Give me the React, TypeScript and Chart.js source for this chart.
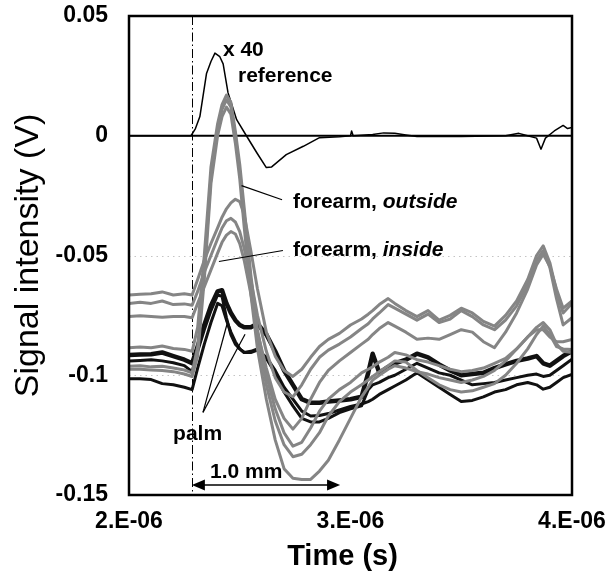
import React, { useEffect, useRef } from 'react';
import { Chart, registerables } from 'chart.js';

Chart.register(...registerables);

// ---------- data (time in microseconds, signal in volts) ----------
const timeMicroseconds = [
  2.0, 2.05, 2.1, 2.15, 2.2, 2.25, 2.285, 2.31, 2.34, 2.37, 2.4, 2.42, 2.44, 2.46, 2.48, 2.5, 2.52, 2.55,
  2.58, 2.62, 2.66, 2.7, 2.74, 2.78, 2.82, 2.86, 2.9, 2.95, 3.0, 3.05, 3.08, 3.1, 3.13, 3.17, 3.2, 3.25,
  3.3, 3.35, 3.4, 3.45, 3.5, 3.55, 3.6, 3.65, 3.7, 3.75, 3.8, 3.84, 3.87, 3.9, 3.93, 3.96, 4.0,
];

const forearmInside1 = [
  -0.0665, -0.0662, -0.066, -0.0652, -0.0665, -0.066, -0.0665, -0.06, -0.052, -0.045, -0.0385, -0.034, -0.0305,
  -0.028, -0.0265, -0.0275, -0.033, -0.048, -0.064, -0.082, -0.092, -0.098, -0.1005, -0.0975, -0.0925, -0.088,
  -0.085, -0.0825, -0.079, -0.0765, -0.0745, -0.073, -0.0705, -0.068, -0.07, -0.073, -0.0755, -0.073, -0.077,
  -0.075, -0.072, -0.074, -0.0775, -0.0795, -0.075, -0.069, -0.06, -0.05, -0.046, -0.053, -0.065, -0.074, -0.07,
];
const forearmInside2 = [
  -0.07, -0.0695, -0.07, -0.069, -0.0705, -0.0702, -0.0708, -0.065, -0.057, -0.05, -0.043, -0.0385, -0.0355,
  -0.0345, -0.036, -0.04, -0.047, -0.06, -0.075, -0.09, -0.101, -0.107, -0.109, -0.104, -0.0975, -0.0925,
  -0.0895, -0.087, -0.084, -0.0805, -0.0785, -0.0765, -0.074, -0.0705, -0.072, -0.0745, -0.077, -0.0745, -0.078,
  -0.0765, -0.073, -0.0755, -0.079, -0.081, -0.077, -0.071, -0.062, -0.052, -0.048, -0.055, -0.068, -0.079, -0.076,
];
const forearmInside3 = [
  -0.0755, -0.0752, -0.0755, -0.0758, -0.0755, -0.0755, -0.076, -0.07, -0.063, -0.056, -0.049, -0.0445, -0.0415,
  -0.04, -0.041, -0.045, -0.052, -0.066, -0.082, -0.097, -0.11, -0.118, -0.1225, -0.118, -0.11, -0.103,
  -0.098, -0.094, -0.0905, -0.087, -0.085, -0.083, -0.0805, -0.078, -0.0795, -0.082, -0.085, -0.0845, -0.085,
  -0.083, -0.081, -0.082, -0.086, -0.0885, -0.082, -0.074, -0.064, -0.054, -0.0495, -0.0545, -0.064, -0.072, -0.069,
];
const forearmOutside1 = [
  -0.0885, -0.0882, -0.0885, -0.0878, -0.0888, -0.0892, -0.09, -0.08, -0.05, -0.013, 0.005, 0.013, 0.017,
  0.014, 0.002, -0.012, -0.03, -0.058, -0.081, -0.1, -0.114, -0.124, -0.1296, -0.128, -0.122, -0.115,
  -0.11, -0.106, -0.103, -0.099, -0.0975, -0.0965, -0.0945, -0.0925, -0.0905, -0.0915, -0.0935, -0.0945, -0.096,
  -0.0975, -0.0985, -0.098, -0.097, -0.095, -0.093, -0.089, -0.084, -0.08, -0.078, -0.081, -0.087, -0.09, -0.0905,
];
const forearmOutside2 = [
  -0.0962, -0.096, -0.0965, -0.0962, -0.097, -0.0978, -0.099, -0.088, -0.056, -0.017, 0.003, 0.011, 0.015,
  0.012, 0.0, -0.015, -0.034, -0.062, -0.085, -0.104, -0.119, -0.129, -0.134, -0.133, -0.129, -0.124,
  -0.117, -0.111, -0.107, -0.104, -0.102, -0.1005, -0.0985, -0.096, -0.094, -0.0945, -0.098, -0.101, -0.104,
  -0.106, -0.107, -0.1065, -0.105, -0.1035, -0.1, -0.095, -0.089, -0.083, -0.0795, -0.083, -0.088, -0.089, -0.0892,
];
const forearmOutside3 = [
  -0.0975, -0.0975, -0.0978, -0.098, -0.0985, -0.0995, -0.1005, -0.092, -0.06, -0.02, 0.0, 0.008, 0.012,
  0.009, -0.003, -0.018, -0.038, -0.066, -0.089, -0.11, -0.127, -0.139, -0.143, -0.1435, -0.1435, -0.14,
  -0.1355, -0.127, -0.118, -0.109, -0.105, -0.102, -0.1, -0.0975, -0.096, -0.097, -0.0985, -0.0995, -0.101,
  -0.102, -0.103, -0.102, -0.1005, -0.098, -0.094, -0.089, -0.084, -0.081, -0.081, -0.084, -0.086, -0.086, -0.085,
];
const palm1 = [
  -0.0915, -0.0913, -0.0912, -0.0905, -0.092, -0.0935, -0.095, -0.088, -0.079, -0.071, -0.065, -0.0645, -0.07,
  -0.074, -0.077, -0.079, -0.08, -0.08, -0.0785, -0.083, -0.09, -0.098, -0.104, -0.11, -0.1115, -0.1115,
  -0.111, -0.1105, -0.11, -0.109, -0.099, -0.091, -0.099, -0.0965, -0.095, -0.0935, -0.091, -0.0925, -0.0955,
  -0.098, -0.1, -0.0995, -0.099, -0.097, -0.0955, -0.094, -0.093, -0.092, -0.095, -0.096, -0.094, -0.092, -0.09,
];
const palm2 = [
  -0.094, -0.0938, -0.0935, -0.094, -0.0948, -0.096, -0.0985, -0.09, -0.081, -0.073, -0.0665, -0.067, -0.076,
  -0.083, -0.087, -0.089, -0.0905, -0.09, -0.089, -0.093, -0.099, -0.107, -0.1128, -0.118, -0.1195, -0.1195,
  -0.118, -0.1156, -0.114, -0.1128, -0.106, -0.104, -0.103, -0.101, -0.1, -0.0975, -0.095, -0.097, -0.099,
  -0.1, -0.102, -0.104, -0.1035, -0.103, -0.102, -0.101, -0.1, -0.0995, -0.1005, -0.1, -0.098, -0.096, -0.0933,
];
const palm3 = [
  -0.1015, -0.1015, -0.1018, -0.1035, -0.104, -0.105, -0.106, -0.097, -0.087, -0.078, -0.07, -0.071, -0.077,
  -0.082, -0.086, -0.089, -0.0905, -0.0905, -0.0895, -0.0925, -0.098, -0.105, -0.11, -0.115, -0.117, -0.1168,
  -0.116, -0.1145, -0.113, -0.112, -0.111, -0.11, -0.108, -0.106, -0.1045, -0.102, -0.099, -0.102, -0.105,
  -0.108, -0.111, -0.1105, -0.109, -0.107, -0.106, -0.104, -0.103, -0.104, -0.1058, -0.105, -0.103, -0.101, -0.0996,
];

// reference signal, shown multiplied by 40
const referenceTime = [
  2.0, 2.28, 2.3, 2.32, 2.35, 2.37, 2.388, 2.41, 2.425, 2.447, 2.486, 2.53, 2.577, 2.62, 2.644, 2.71, 2.787,
  2.86, 2.95, 3.0, 3.005, 3.012, 3.1, 3.15, 3.2, 3.25, 3.3, 3.5, 3.7, 3.76, 3.8, 3.84, 3.86, 3.88, 3.92, 3.96,
  3.98, 4.0,
];
const referenceX40 = [
  0, 0, 0.003, 0.008, 0.026, 0.031, 0.0345, 0.033, 0.03, 0.018, 0.0067, 0, -0.0071, -0.0133, -0.013, -0.0079,
  -0.0044, -0.0008, -0.0004, 0, 0.002, 0, 0.0005, 0.0012, 0.001, 0.0003, -0.0003, -0.0003, 0, 0.001, 0, -0.001,
  -0.0056, -0.001, 0.002, 0.0043, 0.003, 0.0035,
];

const xTickValues = [2, 3, 4];
const yTickValues = [-0.15, -0.1, -0.05, 0, 0.05];
const dottedGridValues = [-0.05, -0.1];

// annotation anchors (data units: microseconds, volts)
const pulseStartTime = 2.284;
const scaleBar = { from: 2.284, to: 2.953, value: -0.1458, label: '1.0 mm', labelTime: 2.366, labelValue: -0.1429 };
const labelX40 = { text: 'x 40', time: 2.424, value: 0.0335 };
const labelReference = { text: 'reference', time: 2.492, value: 0.0225 };
const labelOutside = { prefix: 'forearm, ', italic: 'outside', time: 2.74, value: -0.03 };
const labelInside = { prefix: 'forearm, ', italic: 'inside', time: 2.74, value: -0.0503 };
const labelPalm = { text: 'palm', time: 2.199, value: -0.1271 };
const pointerLines = [
  [2.508, -0.0208, 2.691, -0.0267],
  [2.406, -0.0525, 2.695, -0.0479],
  [2.334, -0.1155, 2.442, -0.0788],
  [2.334, -0.1155, 2.524, -0.0829],
];

const FONT = "'Liberation Sans', Arial, Helvetica, sans-serif";
const GRAY = '#858585';
const BLACK = '#111111';

const toPoints = (xs: number[], ys: number[]) => xs.map((x, i) => ({ x, y: ys[i] }));

const annotationPlugin = {
  id: 'figureAnnotations',
  beforeDatasetsDraw(chart: any) {
    const { ctx, chartArea, scales } = chart;
    const xs = scales.x;
    const ys = scales.y;
    ctx.save();
    ctx.strokeStyle = '#c4c4c4';
    ctx.lineWidth = 1;
    ctx.setLineDash([1.5, 4]);
    dottedGridValues.forEach((v) => {
      const y = Math.round(ys.getPixelForValue(v)) + 0.5;
      ctx.beginPath();
      ctx.moveTo(chartArea.left, y);
      ctx.lineTo(chartArea.right, y);
      ctx.stroke();
    });
    ctx.setLineDash([]);
    ctx.strokeStyle = '#000';
    ctx.lineWidth = 2;
    const y0 = ys.getPixelForValue(0);
    ctx.beginPath();
    ctx.moveTo(chartArea.left, y0);
    ctx.lineTo(chartArea.right, y0);
    ctx.stroke();
    const xm = Math.round(xs.getPixelForValue(pulseStartTime)) + 0.5;
    ctx.lineWidth = 1;
    ctx.setLineDash([9, 3, 1.5, 3]);
    ctx.beginPath();
    ctx.moveTo(xm, chartArea.top);
    ctx.lineTo(xm, chartArea.bottom);
    ctx.stroke();
    ctx.restore();
  },
  afterDatasetsDraw(chart: any) {
    const { ctx, chartArea, scales } = chart;
    const xs = scales.x;
    const ys = scales.y;
    const px = (t: number) => xs.getPixelForValue(t);
    const py = (v: number) => ys.getPixelForValue(v);
    ctx.save();
    ctx.strokeStyle = '#000';
    ctx.lineWidth = 2.5;
    ctx.strokeRect(chartArea.left, chartArea.top, chartArea.right - chartArea.left, chartArea.bottom - chartArea.top);

    ctx.lineWidth = 1.2;
    pointerLines.forEach(([t1, v1, t2, v2]) => {
      ctx.beginPath();
      ctx.moveTo(px(t1), py(v1));
      ctx.lineTo(px(t2), py(v2));
      ctx.stroke();
    });

    const ya = py(scaleBar.value);
    const xa = px(scaleBar.from);
    const xb = px(scaleBar.to);
    ctx.lineWidth = 1.5;
    ctx.beginPath();
    ctx.moveTo(xa + 4, ya);
    ctx.lineTo(xb - 4, ya);
    ctx.stroke();
    ctx.fillStyle = '#000';
    ctx.beginPath();
    ctx.moveTo(xa, ya);
    ctx.lineTo(xa + 13, ya - 5.5);
    ctx.lineTo(xa + 13, ya + 5.5);
    ctx.closePath();
    ctx.fill();
    ctx.beginPath();
    ctx.moveTo(xb, ya);
    ctx.lineTo(xb - 13, ya - 5.5);
    ctx.lineTo(xb - 13, ya + 5.5);
    ctx.closePath();
    ctx.fill();

    ctx.textBaseline = 'alphabetic';
    ctx.textAlign = 'left';
    ctx.fillStyle = '#000';
    const bold = `bold 21px ${FONT}`;
    const boldItalic = `italic bold 21px ${FONT}`;
    ctx.font = bold;
    ctx.fillText(scaleBar.label, px(scaleBar.labelTime), py(scaleBar.labelValue));
    ctx.fillText(labelX40.text, px(labelX40.time), py(labelX40.value));
    ctx.fillText(labelReference.text, px(labelReference.time), py(labelReference.value));
    ctx.fillText(labelPalm.text, px(labelPalm.time), py(labelPalm.value));
    [labelOutside, labelInside].forEach((l) => {
      ctx.font = bold;
      const x = px(l.time);
      const y = py(l.value);
      ctx.fillText(l.prefix, x, y);
      const w = ctx.measureText(l.prefix).width;
      ctx.font = boldItalic;
      ctx.fillText(l.italic, x + w, y);
    });
    ctx.restore();
  },
  afterDraw(chart: any) {
    const { ctx, chartArea } = chart;
    ctx.save();
    ctx.fillStyle = '#000';
    ctx.font = `bold 29px ${FONT}`;
    ctx.textAlign = 'center';
    ctx.textBaseline = 'alphabetic';
    ctx.fillText('Time (s)', (chartArea.left + chartArea.right) / 2 - 8, chart.height - 9);
    ctx.restore();
  },
};

export default function App() {
  const canvasRef = useRef<HTMLCanvasElement | null>(null);

  useEffect(() => {
    if (!canvasRef.current) return;
    const grayLine = (label: string, ys: number[]) => ({
      label,
      data: toPoints(timeMicroseconds, ys),
      borderColor: GRAY,
      borderWidth: 3,
    });
    const blackLine = (label: string, ys: number[], width: number) => ({
      label,
      data: toPoints(timeMicroseconds, ys),
      borderColor: BLACK,
      borderWidth: width,
    });
    const chart = new Chart(canvasRef.current, {
      type: 'line',
      data: {
        datasets: [
          grayLine('forearm, inside 1', forearmInside1),
          grayLine('forearm, inside 2', forearmInside2),
          grayLine('forearm, inside 3', forearmInside3),
          grayLine('forearm, outside 1', forearmOutside1),
          grayLine('forearm, outside 2', forearmOutside2),
          grayLine('forearm, outside 3', forearmOutside3),
          blackLine('palm 2', palm2, 3),
          blackLine('palm 3', palm3, 3),
          blackLine('palm 1', palm1, 4.5),
          {
            label: 'reference x 40',
            data: toPoints(referenceTime, referenceX40),
            borderColor: '#000',
            borderWidth: 1.5,
          },
        ],
      },
      options: {
        responsive: false,
        animation: false,
        devicePixelRatio: 1,
        layout: { padding: { left: 0, top: 16, right: 40, bottom: 0 } },
        elements: {
          point: { radius: 0 },
          line: { tension: 0, borderJoinStyle: 'round', borderCapStyle: 'round', fill: false },
        },
        plugins: { legend: { display: false }, tooltip: { enabled: false } },
        scales: {
          x: {
            type: 'linear',
            min: 2,
            max: 4,
            afterBuildTicks: (s: any) => {
              s.ticks = xTickValues.map((value) => ({ value }));
            },
            afterFit: (s: any) => {
              s.height = 79;
              s.paddingLeft = 0;
              s.paddingRight = 0;
            },
            ticks: {
              callback: (v: any) => `${v}.E-06`,
              font: { family: FONT, size: 23, weight: 'bold' },
              color: '#000',
              padding: 13,
              maxRotation: 0,
              autoSkip: false,
            },
            grid: { display: false, drawTicks: false },
            border: { display: false },
          },
          y: {
            type: 'linear',
            min: -0.15,
            max: 0.05,
            afterBuildTicks: (s: any) => {
              s.ticks = yTickValues.map((value) => ({ value }));
            },
            afterFit: (s: any) => {
              s.width = 129;
              s.paddingTop = 0;
              s.paddingBottom = 0;
            },
            ticks: {
              callback: (v: any) => String(Number(Number(v).toFixed(2))),
              font: { family: FONT, size: 23, weight: 'bold' },
              color: '#000',
              padding: 21,
              autoSkip: false,
            },
            grid: { display: false, drawTicks: false },
            border: { display: false },
            title: {
              display: true,
              text: 'Signal intensity (V)',
              font: { family: FONT, size: 34, weight: 'normal' },
              color: '#000',
              padding: { top: 8, bottom: 0 },
            },
          },
        },
      } as any,
      plugins: [annotationPlugin],
    });
    return () => chart.destroy();
  }, []);

  return (
    <div style={{ position: 'absolute', left: 0, top: 0, width: 612, height: 574, background: '#fff' }}>
      <canvas ref={canvasRef} width={612} height={574} style={{ display: 'block' }} />
    </div>
  );
}
